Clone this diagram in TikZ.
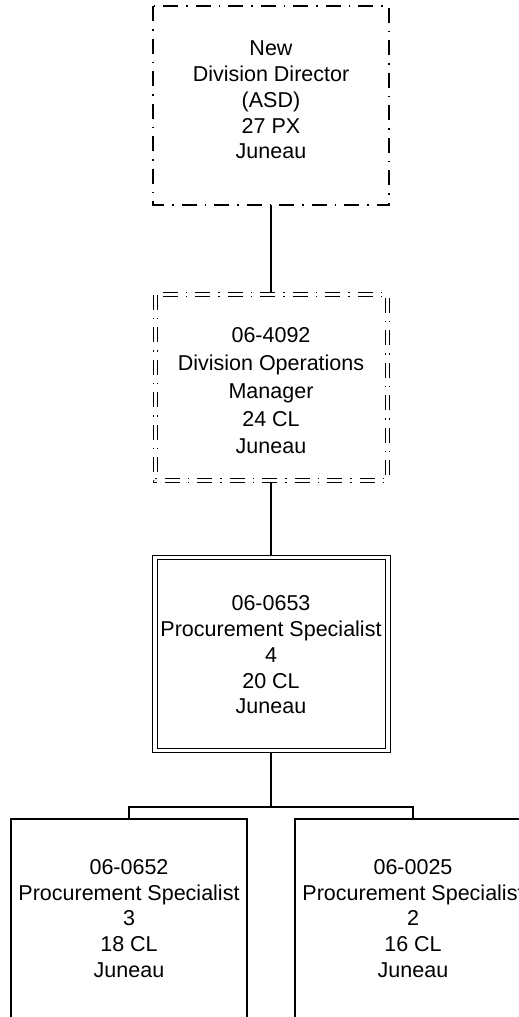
\documentclass[tikz,border=0pt]{standalone}
\usepackage{fontspec}
\setmainfont{Liberation Sans}
\begin{document}
\begin{tikzpicture}[x=1pt,y=-1pt,
  every node/.style={inner sep=0pt, align=center, font=\fontsize{21.5}{25.75}\selectfont},
  dd/.style={dash pattern=on 15pt off 8pt on 1.5pt off 8pt},
  boxline/.style={line width=1.2pt},
  conn/.style={line width=1.2pt}]
\useasboundingbox (0,0) rectangle (519,1017);
% boxes
\draw[boxline,dd] (153,6) rectangle (389,205);
\node (b1) at (271,100) {New\\Division Director\\(ASD)\\27 PX\\Juneau};
\coordinate (b1s) at (271,205);

\draw[line width=1pt,dd,double,double distance=3pt] (155,294.5) rectangle (387,480);
\node[font=\fontsize{21.5}{27.75}\selectfont] (b2) at (271,391) {06-4092\\Division Operations\\Manager\\24 CL\\Juneau};
\coordinate (b2n) at (271,293);
\coordinate (b2s) at (271,482);

\draw[line width=1pt,double,double distance=3.5pt] (155,557.5) rectangle (388,750.5);
\node (b3) at (271,655) {06-0653\\Procurement Specialist\\4\\20 CL\\Juneau};
\coordinate (b3n) at (271,555);
\coordinate (b3s) at (271,753);

\draw[boxline] (11,1030) -- (11,819) -- (247,819) -- (247,1030);
\node (b4) at (129,918.5) {06-0652\\Procurement Specialist\\3\\18 CL\\Juneau};
\coordinate (b4n) at (129,819);

\draw[boxline] (295,1030) -- (295,819) -- (531,819) -- (531,1030);
\node (b5) at (413,918.5) {06-0025\\Procurement Specialist\\2\\16 CL\\Juneau};
\coordinate (b5n) at (413,819);

% connectors
\draw[conn] (b1s) -- (b2n);
\draw[conn] (b2s) -- (b3n);
\coordinate (bus) at (271,807);
\draw[conn] (b3s) -- (bus);
\draw[conn] (b4n) -- (b4n |- bus) -- (b5n |- bus) -- (b5n);
\end{tikzpicture}
\end{document}
